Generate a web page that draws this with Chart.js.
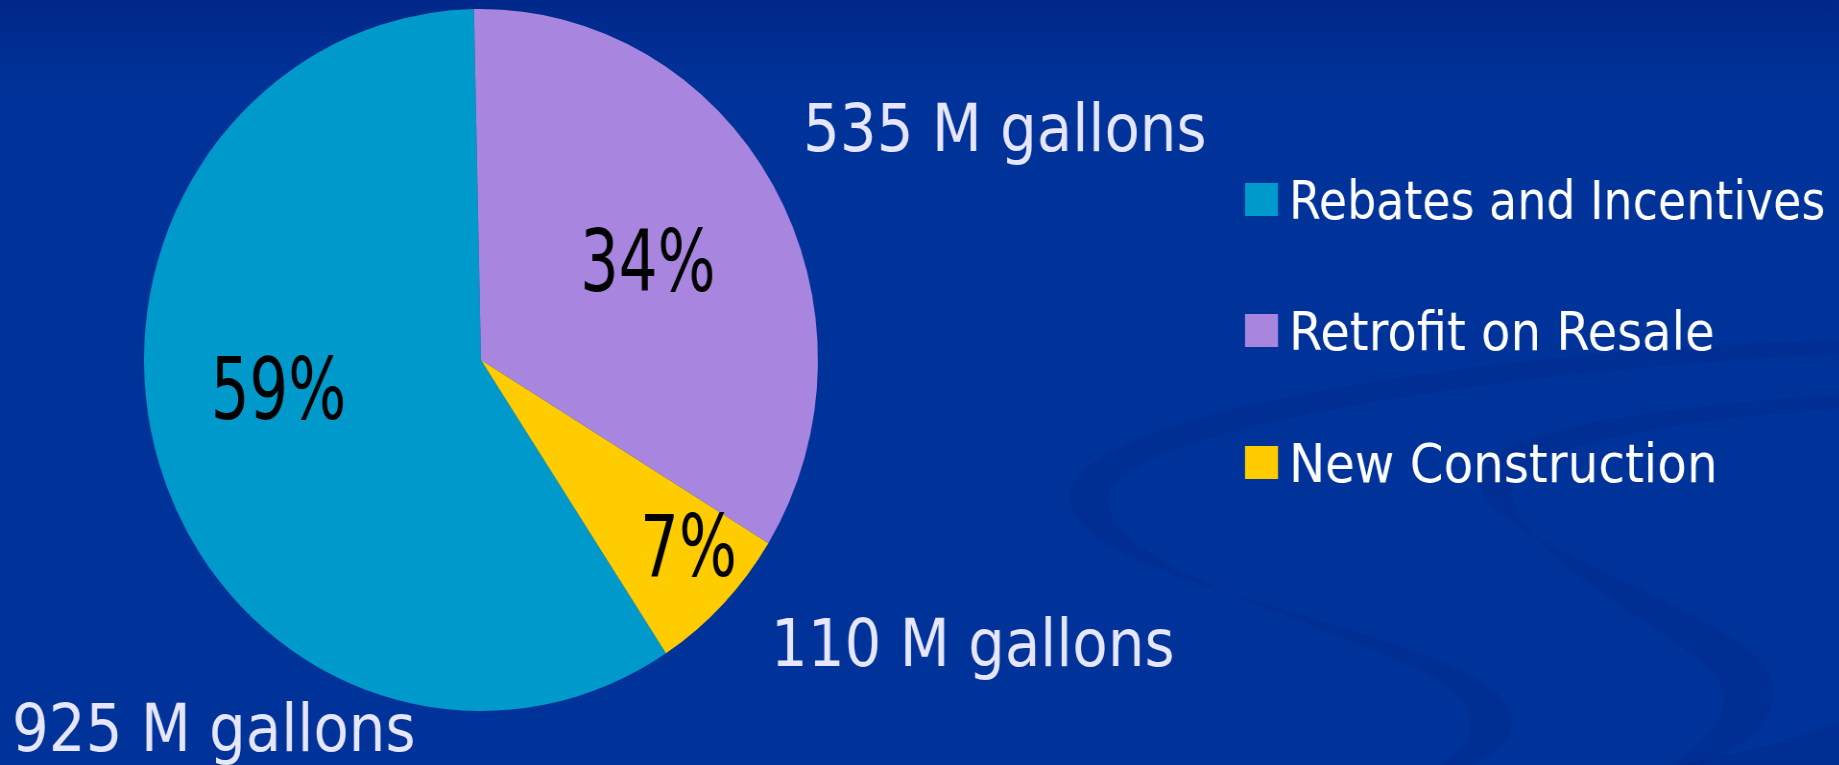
<!DOCTYPE html>
<html><head><meta charset="utf-8">
<script src="https://cdn.jsdelivr.net/npm/chart.js@4.4.1/dist/chart.umd.min.js"></script>
<style>
html,body{margin:0;padding:0;width:1839px;height:765px;overflow:hidden;background:#003399;}
#wrap{position:absolute;left:0;top:0;width:1916px;height:765px;transform:scaleX(0.96);transform-origin:0 0;}
canvas{display:block;}
</style></head><body>
<div id="wrap"><canvas id="c" width="1916" height="765" style="width:1916px;height:765px"></canvas></div>
<script>
// ---- data ----
const categories = ['Rebates and Incentives', 'Retrofit on Resale', 'New Construction'];
const gallons = [925, 535, 110];
const unitSuffix = ' M gallons';
const colors = ['#0099CC', '#A886DF', '#FFCC00'];

// ---- layout / style (real page pixels) ----
const SX = 0.96;                      // horizontal squeeze of the slide
const FONT = '"DejaVu Sans", "Liberation Sans", sans-serif';
const pctPlace = [[9.8, 0.606], [0, 0.571], [-3.5, 0.811]]; // [angle offset deg, radius fraction]
const amountPos = [[12, 751], [803, 151], [771, 666]];       // left x, baseline
const legendX = 1245, legendTextX = 1289, legendTops = [183, 314, 446], legendBase = [219, 350, 482];
const legendSqueeze = [0.85, 0.89, 0.895];

const total = gallons.reduce((a, b) => a + b, 0);
const pctText = gallons.map(v => Math.round(v / total * 100) + '%');
const amountText = gallons.map(v => v + unitSuffix);

const bgPlugin = {
  id: 'bg',
  beforeDraw(chart) {
    const ctx = chart.ctx;
    ctx.save();
    ctx.scale(1 / SX, 1);
    const g = ctx.createLinearGradient(0, 0, 0, 765);
    g.addColorStop(0, '#00288a');
    g.addColorStop(0.12, '#003399');
    g.addColorStop(1, '#003399');
    ctx.fillStyle = g;
    ctx.fillRect(0, 0, 1839, 765);
    ctx.fillStyle = 'rgba(0,28,118,0.2)';
    // big S swirl
    ctx.beginPath();
    ctx.moveTo(1839, 340);
    ctx.bezierCurveTo(1500, 350, 1065, 410, 1070, 500);
    ctx.bezierCurveTo(1075, 570, 1320, 610, 1450, 665);
    ctx.bezierCurveTo(1540, 705, 1520, 745, 1470, 765);
    ctx.lineTo(1440, 765);
    ctx.bezierCurveTo(1480, 740, 1490, 705, 1420, 670);
    ctx.bezierCurveTo(1300, 615, 1108, 565, 1108, 500);
    ctx.bezierCurveTo(1108, 430, 1500, 370, 1839, 354);
    ctx.closePath();
    ctx.fill();
    // second swirl
    ctx.beginPath();
    ctx.moveTo(1839, 395);
    ctx.bezierCurveTo(1600, 410, 1470, 440, 1480, 485);
    ctx.bezierCurveTo(1490, 540, 1700, 600, 1760, 660);
    ctx.bezierCurveTo(1800, 710, 1740, 750, 1700, 765);
    ctx.lineTo(1670, 765);
    ctx.bezierCurveTo(1710, 740, 1750, 700, 1700, 660);
    ctx.bezierCurveTo(1620, 600, 1512, 545, 1512, 492);
    ctx.bezierCurveTo(1512, 450, 1650, 422, 1839, 408);
    ctx.closePath();
    ctx.fill();
    // corner
    ctx.beginPath();
    ctx.moveTo(1839, 722);
    ctx.lineTo(1839, 765);
    ctx.lineTo(1680, 765);
    ctx.bezierCurveTo(1750, 752, 1800, 738, 1839, 722);
    ctx.closePath();
    ctx.fill();
    ctx.restore();
  }
};

const labelPlugin = {
  id: 'labels',
  afterDraw(chart) {
    const ctx = chart.ctx;
    const arcs = chart.getDatasetMeta(0).data;
    ctx.save();
    ctx.scale(1 / SX, 1);
    // percentages inside slices
    ctx.font = '86px ' + FONT;
    ctx.fillStyle = '#000000';
    ctx.textAlign = 'center';
    ctx.textBaseline = 'alphabetic';
    arcs.forEach((a, i) => {
      const mid = (a.startAngle + a.endAngle) / 2 + pctPlace[i][0] * Math.PI / 180;
      const r = a.outerRadius * pctPlace[i][1];
      const px = (a.x + Math.cos(mid) * r) * SX;
      const py = a.y + Math.sin(mid) * r;
      const w = ctx.measureText(pctText[i]).width * 0.71;
      ctx.fillText(pctText[i], px, py + 31, w);
    });
    // amounts outside
    ctx.font = '65px ' + FONT;
    ctx.fillStyle = '#E6E6FF';
    ctx.textAlign = 'left';
    amountText.forEach((t, i) => {
      const w = ctx.measureText(t).width * 0.89;
      ctx.fillText(t, amountPos[i][0], amountPos[i][1], w);
    });
    // legend
    ctx.font = '54px ' + FONT;
    categories.forEach((c, i) => {
      ctx.fillStyle = colors[i];
      ctx.fillRect(legendX, legendTops[i], 33, 33);
      ctx.fillStyle = '#FFFFFF';
      const w = ctx.measureText(c).width * legendSqueeze[i];
      ctx.fillText(c, legendTextX, legendBase[i], w);
    });
    ctx.restore();
  }
};

new Chart(document.getElementById('c'), {
  type: 'pie',
  data: {
    labels: categories,
    datasets: [{
      data: gallons,
      backgroundColor: colors,
      borderWidth: 0,
      offset: 0,
      hoverOffset: 0
    }]
  },
  options: {
    responsive: false,
    animation: false,
    devicePixelRatio: 1,
    events: [],
    rotation: 146.7,
    layout: { padding: { left: 150, right: 1064, top: 9, bottom: 54 } },
    plugins: { legend: { display: false }, tooltip: { enabled: false }, title: { display: false } }
  },
  plugins: [bgPlugin, labelPlugin]
});
</script>
</body></html>
